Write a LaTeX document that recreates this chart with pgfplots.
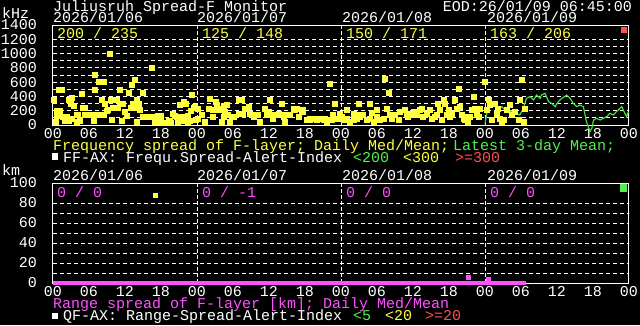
\documentclass[border=0pt]{standalone}
\usepackage{pgfplots}
\pgfplotsset{compat=1.18}
\usepackage{fontspec}
\setmainfont{Liberation Mono}
\definecolor{yel}{RGB}{255,255,64}
\definecolor{grn}{RGB}{80,240,80}
\definecolor{gline}{RGB}{64,224,64}
\definecolor{rd}{RGB}{255,80,80}
\definecolor{mag}{RGB}{255,80,255}
\newcommand\fs{\fontsize{15}{15}\selectfont}
\pgfplotsset{
  panel/.style={
    anchor=south west, width=576pt, height=100pt, scale only axis,
    xmin=0, xmax=96, clip=false,
    axis line style={white, line width=1pt},
    major tick length=0pt, minor tick length=0pt,
    xtick={0,6,...,96},
    xticklabels={00,06,12,18,00,06,12,18,00,06,12,18,00,06,12,18,00},
    tick label style={text=white, font=\fs, inner sep=0pt},
    xticklabel style={anchor=north, yshift=-3.5pt},
    yticklabel style={anchor=east, xshift=-16pt},
    yminorgrids,
    minor grid style={white, dash pattern=on 4pt off 3pt, line width=0.8pt},
    extra x ticks={24,48,72}, extra x tick labels={},
    extra x tick style={grid=major, major grid style={white, dash pattern=on 4pt off 2pt, line width=0.8pt}},
  }
}
\begin{document}
\begin{tikzpicture}[x=1pt,y=1pt]
\fill[black] (0,0) rectangle (640,325);
% ---------------- top panel ----------------
\begin{axis}[panel, at={(53pt,200pt)}, ymin=0, ymax=1400,
  ytick={0,200,...,1400}, yticklabels={0,200,400,600,800,1000,1200,1400},
  minor ytick={100,200,...,1200}]
\addplot[only marks, mark=square*, mark size=2.5pt, color=yel, mark options={draw=none, fill=yel}] table {
h v
0.2 360
0.7 200
1.2 200
0.9 490
1.4 490
0.7 126
1.6 110
2.3 110
2.6 350
2.9 300
3.1 380
3.4 270
2.0 60
3.1 85
3.9 150
4.2 140
4.5 60
4.8 434
5.0 240
5.3 240
5.3 150
5.8 150
6.1 150
6.4 150
7.0 700
7.0 490
7.7 600
8.4 600
7.3 150
7.9 150
8.4 150
8.1 360
8.6 300
8.9 200
9.2 220
9.5 1000
9.7 360
10.2 360
10.6 360
10.0 240
10.8 240
11.2 500
11.2 300
11.7 300
12.0 180
12.3 130
12.6 450
13.0 240
13.3 300
13.6 240
13.1 560
13.7 640
14.0 350
14.3 300
14.4 220
15.0 450
15.0 110
15.6 110
16.1 110
16.6 110
16.4 800
17.4 130
17.7 50
18.0 50
18.5 30
19.0 30
19.3 60
19.7 30
18.0 130
20.0 160
20.3 130
20.6 110
21.1 80
21.4 60
21.7 110
22.2 110
22.5 130
22.8 60
23.0 200
21.2 280
21.8 320
22.1 300
23.1 420
23.4 240
23.6 260
23.8 70
0.5 40
2.7 60
4.0 40
6.8 60
9.8 70
11.5 60
13.9 50
16.9 50
19.5 50
20.8 40
22.4 40
24.2 93
24.8 140
25.3 47
26.2 373
26.7 117
27.3 280
27.6 233
28.1 47
28.4 117
28.9 280
29.5 47
30.1 117
30.9 359
31.4 359
31.7 163
32.3 233
32.6 257
32.8 163
33.4 140
34.5 47
35.6 140
35.9 187
36.2 359
36.7 93
37.3 140
38.1 303
38.4 140
38.7 47
39.5 140
40.1 233
40.6 233
40.9 117
41.4 187
41.7 210
42.3 70
42.8 70
43.4 93
43.9 70
27.1 326
28.4 266
31.2 350
46.2 584
47.0 304
24.2 233
25.9 233
26.7 210
27.6 210
28.7 187
29.2 140
29.8 117
30.9 163
32.0 233
33.4 117
34.2 140
35.3 233
36.4 140
37.6 163
38.4 117
40.3 210
41.7 187
42.8 93
44.2 93
45.3 93
46.4 70
47.6 93
48.1 117
44.5 93
45.1 70
45.6 47
46.2 70
46.7 140
47.3 93
47.8 117
48.4 70
48.9 93
49.5 47
50.1 70
50.6 93
51.2 117
51.7 140
52.3 70
52.8 93
53.4 47
53.9 117
54.5 70
47.8 163
48.9 210
50.1 163
51.2 140
50.9 303
52.8 303
53.1 173
53.9 210
55.3 653
55.9 457
55.6 233
56.2 140
57.0 140
57.8 187
58.7 210
58.9 163
59.5 163
60.1 187
60.6 163
61.2 210
61.4 233
62.3 163
62.8 210
63.7 117
64.2 303
64.5 210
65.1 350
65.3 303
65.6 140
65.9 210
66.2 117
67.0 359
67.3 233
67.6 513
67.8 257
68.1 140
68.4 93
68.9 117
69.2 47
69.8 210
70.1 397
70.3 233
70.6 163
70.9 117
71.2 233
72.0 607
72.3 210
72.6 350
72.8 280
73.1 70
73.7 303
73.9 163
74.2 233
74.5 93
74.8 47
75.1 70
75.6 210
76.2 280
76.4 140
77.0 187
77.6 70
77.8 350
78.1 639
78.7 233
78.4 47
55.1 93
56.4 93
57.6 70
59.2 117
60.3 140
61.7 117
63.1 93
64.0 140
64.8 70
66.4 163
68.7 70
69.5 117
};
\addplot[color=gline, line width=1.2pt] table {
h v
72.0 14
72.3 163
72.8 280
73.4 303
73.7 257
74.2 210
74.8 257
75.3 210
75.9 210
76.4 187
76.7 210
77.3 163
77.8 140
78.4 233
78.9 373
79.5 397
80.1 350
80.6 420
81.2 373
81.4 420
82.0 443
82.6 327
83.1 303
83.7 257
84.2 327
84.8 373
85.3 397
85.6 420
86.2 373
86.7 303
87.3 257
87.8 280
88.4 257
88.9 47
89.5 -93
89.8 -47
90.1 70
90.6 93
91.2 70
91.7 93
92.3 117
92.8 163
93.4 140
93.9 187
94.5 233
94.8 257
95.3 163
95.6 117
95.9 187
};
\end{axis}
% ---------------- bottom panel ----------------
\begin{axis}[panel, at={(53pt,42pt)}, ymin=0, ymax=100,
  ytick={0,20,...,100}, yticklabels={0,20,40,60,80,100},
  minor ytick={10,20,...,80}]
\addplot[color=mag, line width=4pt] coordinates {(0,0) (78.9,0)};
\addplot[only marks, mark=square*, mark size=2pt, color=mag, mark options={draw=none, fill=mag}] coordinates {(69.2,6) (72.5,4)};
\addplot[only marks, mark=square*, mark size=2pt, color=yel, mark options={draw=none, fill=yel}] coordinates {(17.1,88)};
\end{axis}
% ---------------- texts ----------------
\node[anchor=base west, inner sep=0pt, text=white, font=\fs] at (53,313) {Juliusruh Spread-F Monitor};
\node[anchor=base east, inner sep=0pt, text=white, font=\fs] at (632,313) {EOD:26/01/09 06:45:00};
\node[anchor=base west, inner sep=0pt, text=white, font=\fs] at (2,307) {kHz};
\node[anchor=base west, inner sep=0pt, text=white, font=\fs] at (53,303) {2026/01/06};
\node[anchor=base west, inner sep=0pt, text=white, font=\fs] at (197,303) {2026/01/07};
\node[anchor=base west, inner sep=0pt, text=white, font=\fs] at (342,303) {2026/01/08};
\node[anchor=base west, inner sep=0pt, text=white, font=\fs] at (487,303) {2026/01/09};
\node[anchor=base west, inner sep=0pt, text=yel, font=\fs] at (57,287) {200 / 235};
\node[anchor=base west, inner sep=0pt, text=yel, font=\fs] at (202,287) {125 / 148};
\node[anchor=base west, inner sep=0pt, text=yel, font=\fs] at (346,287) {150 / 171};
\node[anchor=base west, inner sep=0pt, text=yel, font=\fs] at (490,287) {163 / 206};
\fill[rd] (621,292) rectangle (627,298);
\node[anchor=base west, inner sep=0pt, text=yel, font=\fs] at (53,175) {Frequency spread of F-layer; Daily Med/Mean;};
\node[anchor=base west, inner sep=0pt, text=grn, font=\fs] at (453,175) {Latest 3-day Mean;};
\fill[white] (52,165) rectangle (58,172);
\node[anchor=base west, inner sep=0pt, text=white, font=\fs] at (63,163) {FF-AX: Frequ.Spread-Alert-Index};
\node[anchor=base west, inner sep=0pt, text=grn, font=\fs] at (353,163) {<200};
\node[anchor=base west, inner sep=0pt, text=yel, font=\fs] at (403,163) {<300};
\node[anchor=base west, inner sep=0pt, text=rd, font=\fs] at (455,163) {>=300};
\node[anchor=base west, inner sep=0pt, text=white, font=\fs] at (2,150) {km};
\node[anchor=base west, inner sep=0pt, text=white, font=\fs] at (53,145) {2026/01/06};
\node[anchor=base west, inner sep=0pt, text=white, font=\fs] at (197,145) {2026/01/07};
\node[anchor=base west, inner sep=0pt, text=white, font=\fs] at (342,145) {2026/01/08};
\node[anchor=base west, inner sep=0pt, text=white, font=\fs] at (487,145) {2026/01/09};
\node[anchor=base west, inner sep=0pt, text=mag, font=\fs] at (57,128) {0 / 0};
\node[anchor=base west, inner sep=0pt, text=mag, font=\fs] at (202,128) {0 / -1};
\node[anchor=base west, inner sep=0pt, text=mag, font=\fs] at (346,128) {0 / 0};
\node[anchor=base west, inner sep=0pt, text=mag, font=\fs] at (490,128) {0 / 0};
\fill[grn] (620,133) rectangle (627,141);
\node[anchor=base west, inner sep=0pt, text=mag, font=\fs] at (53,17) {Range spread of F-layer [km]; Daily Med/Mean};
\fill[white] (52,6) rectangle (58,12);
\node[anchor=base west, inner sep=0pt, text=white, font=\fs] at (63,5) {QF-AX: Range-Spread-Alert-Index};
\node[anchor=base west, inner sep=0pt, text=grn, font=\fs] at (353,5) {<5};
\node[anchor=base west, inner sep=0pt, text=yel, font=\fs] at (385,5) {<20};
\node[anchor=base west, inner sep=0pt, text=rd, font=\fs] at (425,5) {>=20};
\pgfresetboundingbox
\path[use as bounding box] (0,0) rectangle (640,325);
\end{tikzpicture}
\end{document}
